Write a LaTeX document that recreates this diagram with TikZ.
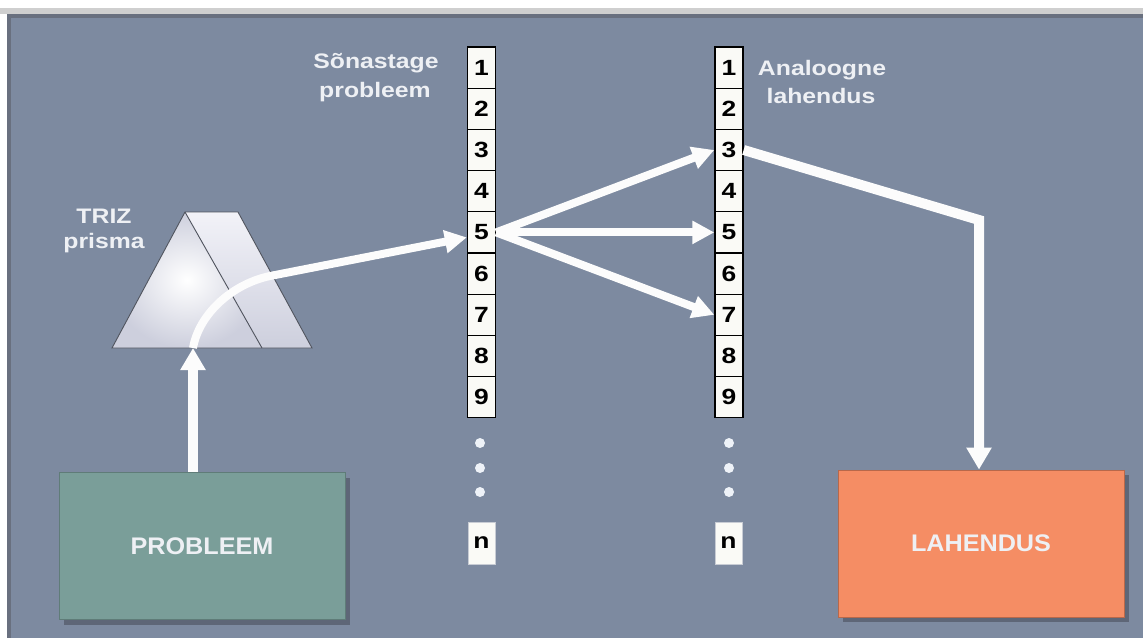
\documentclass[tikz,border=0pt]{standalone}
\usepackage{fontspec}
\setmainfont{Liberation Sans}
\newfontfamily\labfont[FakeStretch=1.18]{Liberation Sans}
\newfontfamily\bigfont[FakeStretch=1.05]{Liberation Sans}
\newfontfamily\numfont[FakeStretch=1.2]{Liberation Sans}
\usetikzlibrary{arrows.meta,calc,shadows}
\definecolor{panel}{HTML}{7D8AA0}
\definecolor{panelline}{HTML}{69707F}
\definecolor{topband}{HTML}{CFCFCF}
\definecolor{probfill}{HTML}{7A9E99}
\definecolor{probedge}{HTML}{5F7C78}
\definecolor{lahfill}{HTML}{F58D64}
\definecolor{lahedge}{HTML}{B8684A}
\definecolor{labtext}{HTML}{EEF0F4}
\definecolor{shadowc}{HTML}{5B6373}
\definecolor{arrowc}{HTML}{FCFCFC}
\definecolor{boxwhite}{HTML}{FAFAF6}
\definecolor{prismdark}{HTML}{CDCFDD}
\definecolor{prismlight}{HTML}{F2F2F8}
\definecolor{prismedge}{HTML}{50545E}
\definecolor{nedge}{HTML}{C8CCD4}
\definecolor{dotc}{HTML}{EEF2F8}
\tikzset{
  lab/.style={text=labtext, font=\labfont\bfseries\fontsize{21}{21}\selectfont, inner sep=0pt},
  numbox/.style={draw=black, line width=1.3pt, fill=boxwhite, minimum width=28pt, minimum height=41.2pt, inner sep=0pt, font=\numfont\bfseries\fontsize{22}{22}\selectfont},
  nbox/.style={draw=nedge, line width=0.8pt, fill=boxwhite, minimum width=27pt, minimum height=42pt, inner sep=0pt, font=\numfont\bfseries\fontsize{22}{22}\selectfont},
  dotn/.style={circle, fill=dotc, minimum size=10pt, inner sep=0pt},
  bigbox/.style={minimum width=286pt, minimum height=147pt, inner sep=0pt, text=labtext, font=\bigfont\bfseries\fontsize{24}{24}\selectfont, drop shadow={shadow xshift=5pt, shadow yshift=-5pt, fill=shadowc, opacity=0.9}},
  warrowA/.style={draw=arrowc, line width=10pt, -{Triangle[width=24pt,length=22pt]}},
  warrowB/.style={draw=arrowc, line width=8pt, -{Triangle[width=22pt,length=22pt]}},
  prismline/.style={draw=prismedge, line width=0.9pt, line join=miter}
}
\begin{document}
\begin{tikzpicture}[x=1pt,y=-1pt]
\useasboundingbox (0,0) rectangle (1143,638);
% background panel
\fill[white] (0,0) rectangle (1143,638);
\fill[topband] (0,8) rectangle (1143,14);
\fill[panelline] (7,14) rectangle (1143,18);
\fill[panelline] (7,14) rectangle (11,638);
\fill[panel] (11,18) rectangle (1143,638);

% prism
\coordinate (pA) at (112,348);
\coordinate (pB) at (185,212);
\coordinate (pC) at (238,212);
\coordinate (pD) at (312,348);
\coordinate (pE) at (262,348);
\shade[top color=prismlight, bottom color=prismdark] (pB) -- (pC) -- (pD) -- (pE) -- cycle;
\shade[inner color=white, outer color=prismdark] (pA) -- (pB) -- (pE) -- cycle;
\draw[prismline] (pA) -- (pB) -- (pC) -- (pD) -- cycle;
\draw[prismline] (pB) -- (pE);

% labels
\node[lab, anchor=base] (t1) at (376,68) {Sõnastage};
\node[lab, anchor=base] (t2) at (375,97) {probleem};
\node[lab, anchor=base] (t3) at (822,75) {Analoogne};
\node[lab, anchor=base] (t4) at (821,103) {lahendus};
\node[lab, anchor=base] (t5) at (104,223) {TRIZ};
\node[lab, anchor=base] (t6) at (104,248) {prisma};

% number columns
\foreach \i in {1,...,9} {
  \node[numbox] (L\i) at (481.5,{67.6+(\i-1)*41.2}) {\i};
  \node[numbox] (R\i) at (729,{67.6+(\i-1)*41.2}) {\i};
}
\foreach \j/\y in {1/443,2/468,3/492} {
  \node[dotn] (Ld\j) at (480,\y) {};
  \node[dotn] (Rd\j) at (729,\y) {};
}
\node[nbox] (Ln) at (481.5,543) {n};
\node[nbox] (Rn) at (728.5,543) {n};

% big boxes
\node[bigbox, fill=probfill, draw=probedge, line width=0.8pt] (prob) at (202,546) {PROBLEEM};
\node[bigbox, fill=lahfill, draw=lahedge, line width=0.8pt] (lah) at (981,543.5) {LAHENDUS};

% connectors
\coordinate (pbot) at (193,348);
\coordinate (pmid) at (270,276);
\coordinate (corner) at (979,220);
\draw[warrowA] (pbot |- prob.north) -- (pbot);
\draw[warrowB] (pbot) .. controls (199,314) and (232,284) .. (pmid) -- ($(L5.west)+(0,5)$);
\draw[warrowB] (L5.east) -- (R3.west);
\draw[warrowB] (L5.east) -- (R5.west);
\draw[warrowB] (L5.east) -- (R7.west);
\draw[warrowA, line join=miter] (R3.east) -- (corner) -- (corner |- lah.north);
\end{tikzpicture}
\end{document}
